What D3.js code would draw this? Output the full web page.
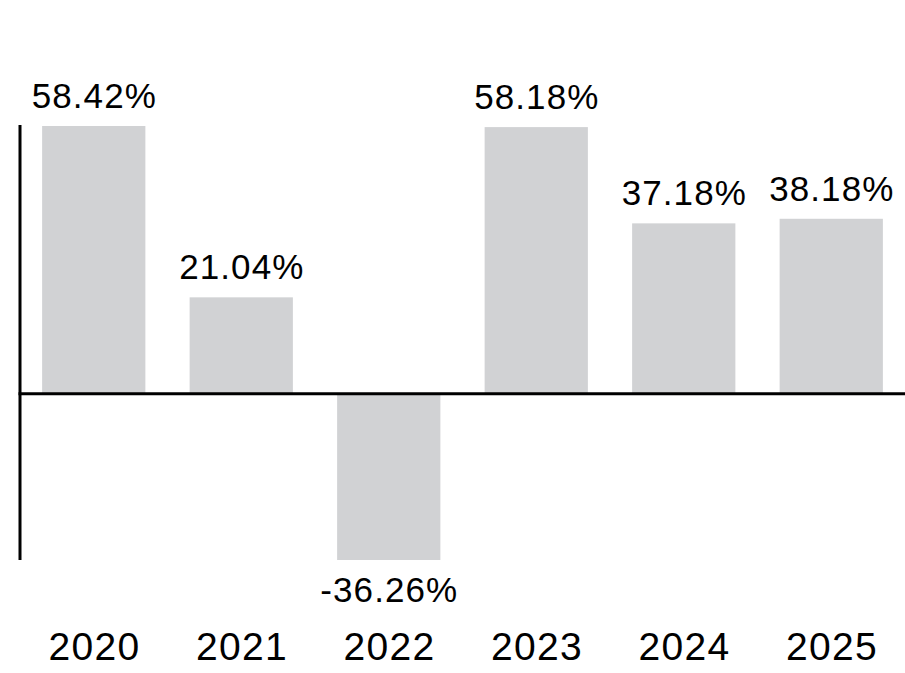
<!DOCTYPE html>
<html>
<head>
<meta charset="utf-8">
<script src="https://cdn.jsdelivr.net/npm/d3@7"></script>
<style>
  body { margin: 0; background: #fff; }
  text { font-family: "Liberation Sans", Arial, sans-serif; fill: #000; }
</style>
</head>
<body>
<div id="chart"></div>
<script>
const years = ["2020", "2021", "2022", "2023", "2024", "2025"];
const returns = [58.42, 21.04, -36.26, 58.18, 37.18, 38.18];

const width = 905,
    height = 673;

const margin = {top: 126, right: 0, bottom: 113, left: 20};

const svg = d3.select("#chart").append("svg")
    .attr("width", width)
    .attr("height", height);

const x = d3.scaleBand()
    .domain(years)
    .range([margin.left, width - margin.right])
    .paddingInner(0.3)
    .paddingOuter(0.15);

const y = d3.scaleLinear()
    .domain([d3.min(returns), d3.max(returns)])
    .range([height - margin.bottom, margin.top]);

const data = years.map((yr, i) => ({year: yr, value: returns[i]}));

// bars
svg.append("g").selectAll("rect")
    .data(data)
    .enter().append("rect")
    .attr("x", d => x(d.year))
    .attr("y", d => d.value >= 0 ? y(d.value) : y(0))
    .attr("width", x.bandwidth())
    .attr("height", d => Math.abs(y(d.value) - y(0)))
    .attr("fill", "#d1d2d4");

// value labels
svg.append("g").selectAll("text")
    .data(data)
    .enter().append("text")
    .attr("x", d => x(d.year) + x.bandwidth() / 2)
    .attr("y", d => d.value >= 0 ? y(d.value) - 18 : y(d.value) + 42)
    .attr("dx", 0.55)
    .attr("text-anchor", "middle")
    .attr("font-size", 35)
    .attr("letter-spacing", 1.1)
    .text(d => d.value.toFixed(2) + "%");

// axes lines
svg.append("line")
    .attr("x1", margin.left).attr("x2", margin.left)
    .attr("y1", y(d3.max(returns)) - 1).attr("y2", y(d3.min(returns)))
    .attr("stroke", "#000")
    .attr("stroke-width", 3);

svg.append("line")
    .attr("x1", margin.left - 1.5).attr("x2", width)
    .attr("y1", y(0)).attr("y2", y(0))
    .attr("stroke", "#000")
    .attr("stroke-width", 3);

// year labels
const xAxis = svg.append("g")
    .attr("transform", `translate(0,${height - 13})`)
    .call(d3.axisBottom(x).tickSize(0).tickPadding(0));
xAxis.select(".domain").remove();
xAxis.selectAll("text")
    .attr("dy", 0)
    .attr("dx", 0.65)
    .attr("font-size", 39)
    .attr("letter-spacing", 1.3)
    .attr("font-family", "Liberation Sans, Arial, sans-serif")
    .attr("fill", "#000");
</script>
</body>
</html>
